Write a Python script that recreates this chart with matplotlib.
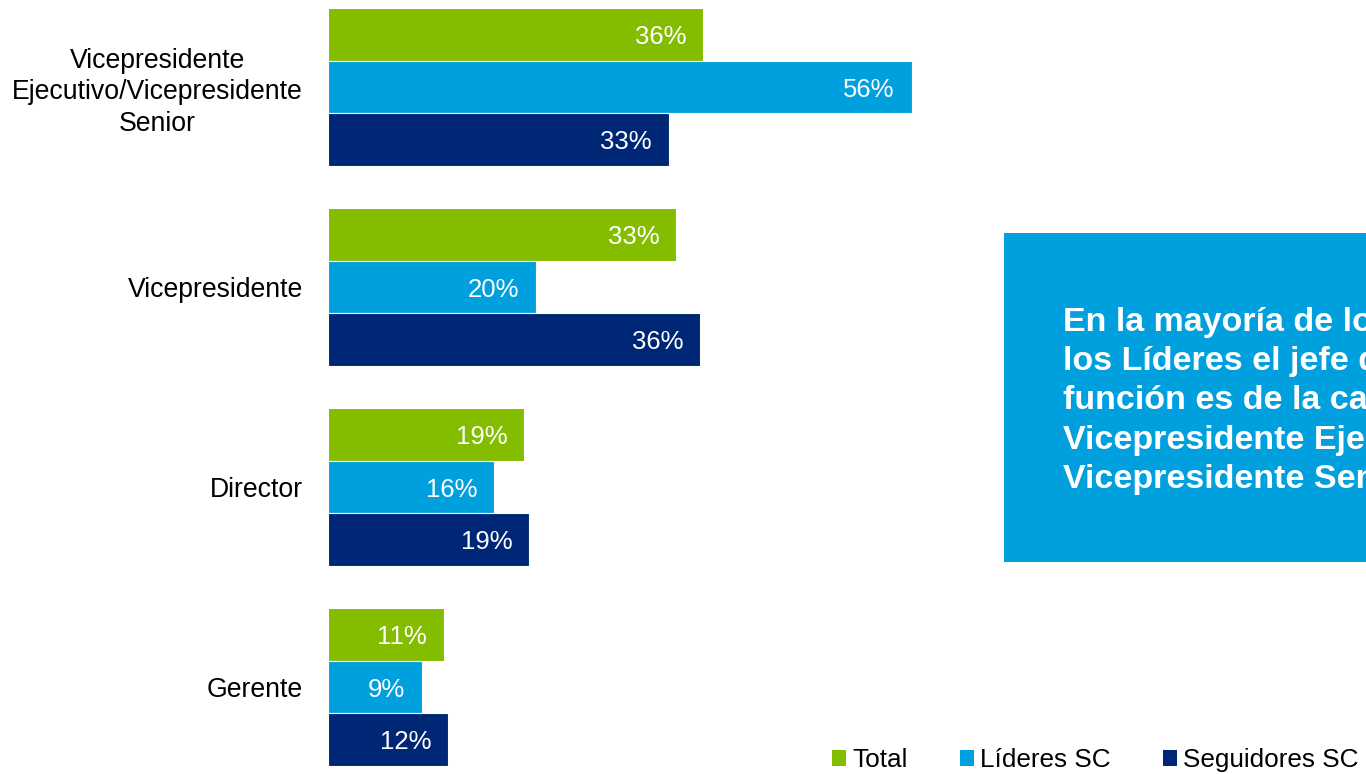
import matplotlib
matplotlib.use("Agg")
import matplotlib.pyplot as plt
from matplotlib.patches import Rectangle, Patch

plt.rcParams['font.family'] = ['Liberation Sans', 'DejaVu Sans']

categories = ["Vicepresidente\nEjecutivo/Vicepresidente\nSenior", "Vicepresidente", "Director", "Gerente"]
series_names = ["Total", "Líderes SC", "Seguidores SC"]
total = [36.0, 33.4, 18.8, 11.1]
lideres = [56.0, 20.0, 15.9, 9.0]
seguidores = [32.7, 35.7, 19.3, 11.5]
colors = ["#84BD00", "#00A0DF", "#002776"]
note = ("En la mayoría de los casos de\nlos Líderes el jefe de la\nfunción es de la categoría\n"
        "Vicepresidente Ejecutivo/\nVicepresidente Senior")

W, H = 1366, 774
fig = plt.figure(figsize=(W / 100, H / 100), dpi=100)
ax_left, ax_right = 328, 1004
ax = fig.add_axes([ax_left / W, 0, (ax_right - ax_left) / W, 1])
px_per_unit = 10.42
ax.set_xlim(0, (ax_right - ax_left) / px_per_unit)
pitch = 200.0
bar_h = 52.5 / pitch
first_center = 8 + 1.5 * 52.5
ax.set_ylim((H - first_center) / pitch, -first_center / pitch)

fs = 18.5
all_series = [total, lideres, seguidores]
for j, (vals, col) in enumerate(zip(all_series, colors)):
    ys = [i + (j - 1) * bar_h for i in range(len(categories))]
    bars = ax.barh(ys, vals, height=bar_h, color=col, edgecolor="white", linewidth=0.8)
    for b, v in zip(bars, vals):
        ax.annotate(f"{round(v)}%", xy=(b.get_width(), b.get_y() + b.get_height() / 2),
                    xytext=(-12, -2), textcoords="offset points", ha="right", va="center",
                    color="white", fontsize=fs)

ax.set_yticks(range(len(categories)))
ax.set_yticklabels(categories, fontsize=19.2, multialignment="center", linespacing=1.26)
for t in ax.get_yticklabels()[:1]:
    t.set_y(-0.012)
ax.tick_params(axis="y", length=0, pad=18)
ax.set_xticks([])
for s in ax.spines.values():
    s.set_visible(False)

# annotation box
fig.patches.append(Rectangle((1004 / W, 1 - 562 / H), (W - 1004) / W + 0.01, (562 - 233) / H,
                             transform=fig.transFigure, facecolor="#00A0DF", edgecolor="none", zorder=0))
fig.text(1063 / W, 1 - 401 / H, note, ha="left", va="center", color="white", fontsize=24.5,
         fontweight="bold", linespacing=1.335)

handles = [Patch(facecolor=c, edgecolor="none") for c in colors]
fig.legend(handles, series_names, loc="center left", bbox_to_anchor=(832 / W, 1 - 760 / H),
           ncol=3, frameon=False, fontsize=18.8, handlelength=0.55, handleheight=0.55,
           handletextpad=0.22, columnspacing=2.0, borderpad=0, borderaxespad=0)

fig.savefig("out.png", dpi=100)
